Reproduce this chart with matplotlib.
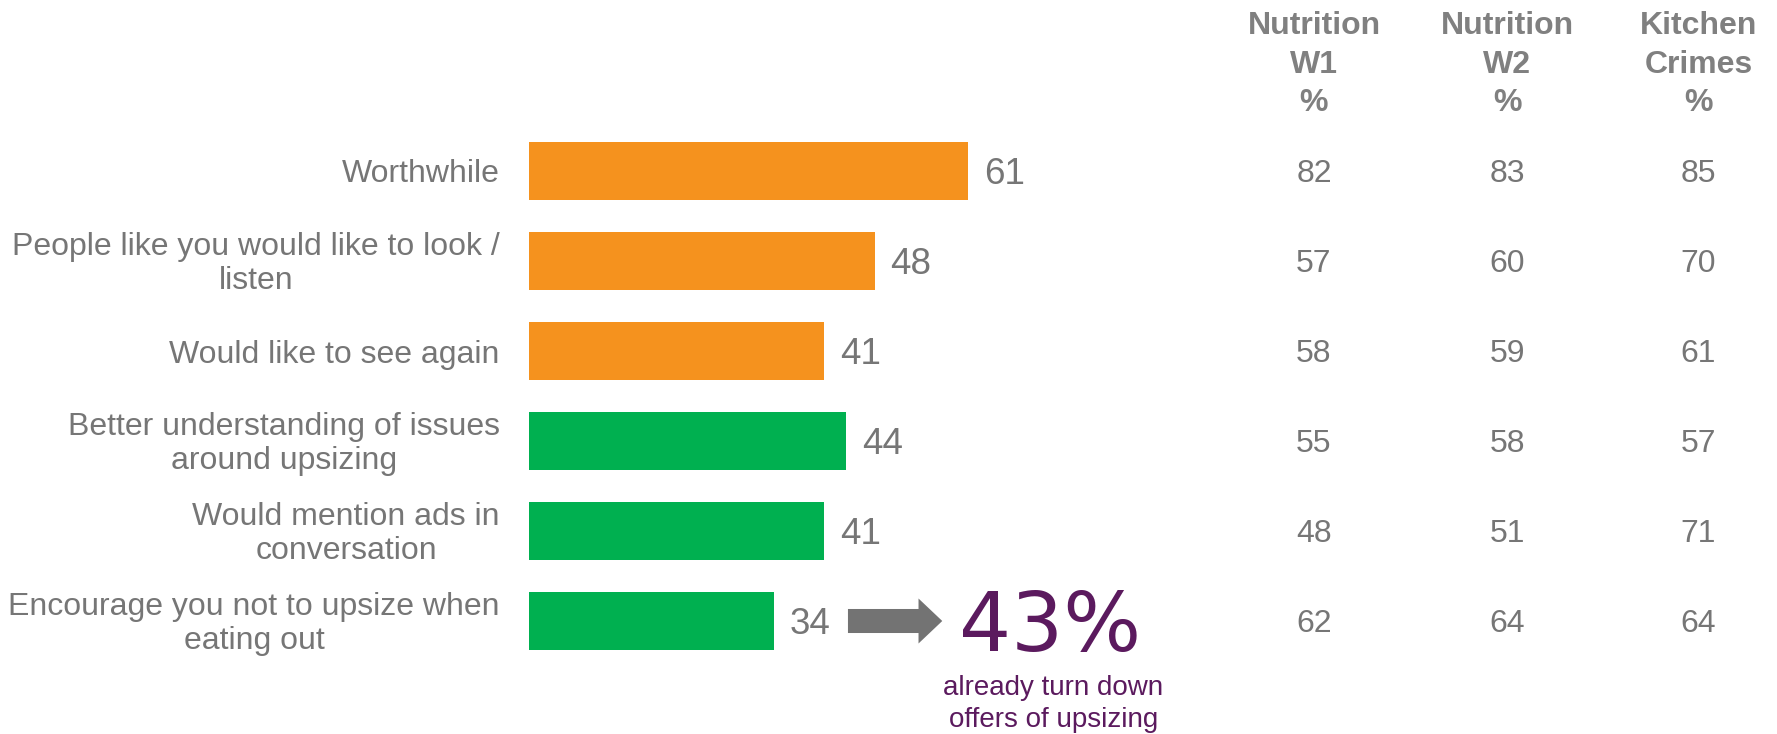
import matplotlib.pyplot as plt
import matplotlib.transforms as mtransforms
from matplotlib.patches import FancyArrow

plt.rcParams['font.family'] = ['Liberation Sans', 'DejaVu Sans']

# ad diagnostics: total sample vs. previous campaigns
statements = ['Worthwhile',
              'People like you would like to look /\nlisten',
              'Would like to see again',
              'Better understanding of issues\naround upsizing',
              'Would mention ads in\nconversation',
              'Encourage you not to upsize when\neating out']
groups = ['appeal', 'appeal', 'appeal', 'impact', 'impact', 'impact']
scores = [61, 48, 41, 44, 41, 34]

benchmarks = ['Nutrition\nW1\n%', 'Nutrition\nW2\n%', 'Kitchen\nCrimes\n%']
nutrition_w1 = [82, 57, 58, 55, 48, 62]
nutrition_w2 = [83, 60, 59, 58, 51, 64]
kitchen_crimes = [85, 70, 61, 57, 71, 64]

already_decline = 43
decline_note = 'already turn down\noffers of upsizing'

group_colors = {'appeal': '#F5921E', 'impact': '#00B050'}
GREY = '#767676'
PURPLE = '#5B1A5E'
ASC = 0.87  # "lp" ascent as a fraction of the font size

W, H = 1777, 734
fig = plt.figure(figsize=(W / 100, H / 100), dpi=100)
# bar axes: value 0 sits at x=529px, rows 90px apart
ax = fig.add_axes([529 / W, 68 / H, (W - 529) / W, 540 / H])
ax.set_xlim(0, (W - 529) / 7.2)
ax.set_ylim(len(scores) - 0.5, -0.5)
ax.axis('off')


def label(x, y, s, size, spacing_px=None, dx=0, transform=None, **kw):
    """Place text so the cap-height middle of the block sits on y."""
    n = s.count('\n') + 1
    em = size * 100 / 72
    spacing_px = spacing_px or em
    down = 0.36 * em + (n - 1) * spacing_px / 2   # last baseline below y
    ax.annotate(s, (x, y), xycoords=transform or 'data',
                xytext=(dx, -down * 0.72), textcoords='offset points',
                va='baseline', fontsize=size,
                linespacing=spacing_px / (ASC * em), **kw)


ypos = range(len(scores))
ax.barh(ypos, scores, height=0.655,
        color=[group_colors[g] for g in groups])

for i, (name, v) in enumerate(zip(statements, scores)):
    label(0, i, name, 23, spacing_px=32.5, dx=-21, ha='right',
          multialignment='center', color=GREY)
    label(v, i, str(v), 26.5, dx=11.5, ha='left', color=GREY)

# benchmark table on the right
tab = mtransforms.blended_transform_factory(ax.transAxes, ax.transData)
head = mtransforms.blended_transform_factory(ax.transAxes, fig.transFigure)
col_x = [0.629, 0.784, 0.937]
for cx, title, col in zip(col_x, benchmarks,
                          [nutrition_w1, nutrition_w2, kitchen_crimes]):
    fig.text(cx, 1 - 111 / H, title, transform=head, ha='center',
             va='baseline', fontsize=23, fontweight='bold', color='#808080',
             linespacing=38 / (ASC * 23 * 100 / 72))
    for i, v in enumerate(col):
        label(cx, i, str(v), 23, ha='center', color=GREY, transform=tab)

# callout on the last statement
last = len(scores) - 1
x0 = scores[last] + 10.3
ax.add_patch(FancyArrow(x0, last, 13.1, 0, width=0.267, head_width=0.5,
                        head_length=3.3, length_includes_head=True,
                        color='#737373', lw=0))
label(scores[last] + 25.7, last, f'{already_decline}%', 59,
      ha='left', color=PURPLE, family='DejaVu Sans')
ax.annotate(decline_note, (72.8, last), xytext=(0, -106 * 0.72),
            textcoords='offset points', ha='center', va='baseline',
            fontsize=20, color=PURPLE,
            linespacing=31 / (ASC * 20 * 100 / 72))

fig.savefig('out.png', dpi=100)
